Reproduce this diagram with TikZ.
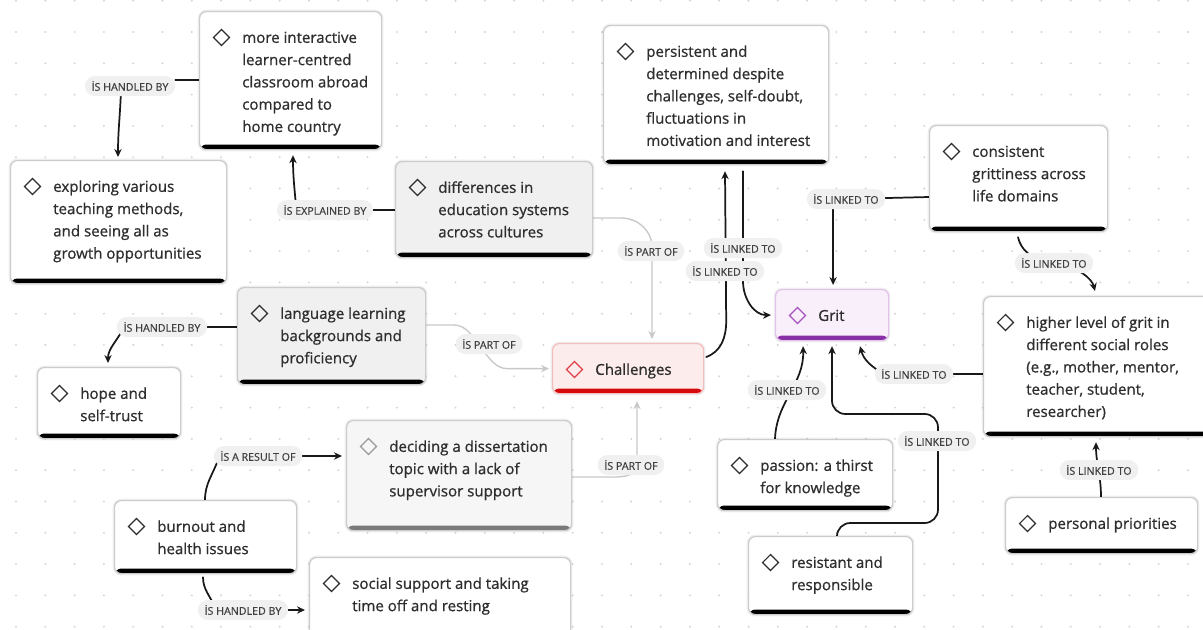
\documentclass[tikz,border=0pt]{standalone}
\usepackage{fontspec}
\setmainfont[FakeBold=0.8]{Open Sans}
\newfontfamily\lblfont[FakeBold=0.6]{Open Sans}
\usetikzlibrary{arrows.meta,calc}
\pgfdeclarelayer{bg}
\pgfdeclarelayer{edges}
\pgfsetlayers{bg,edges,main}

\definecolor{ink}{HTML}{2E2E2E}
\definecolor{boxline}{HTML}{CCCCCC}
\definecolor{grayfill}{HTML}{F0F0F0}
\definecolor{lightfill}{HTML}{F6F6F6}
\definecolor{lightbar}{HTML}{7A7A7A}
\definecolor{lightdia}{HTML}{9A9A9A}
\definecolor{chalfill}{HTML}{FDECEC}
\definecolor{challine}{HTML}{F5BDBD}
\definecolor{chalbar}{HTML}{D60A0A}
\definecolor{chaldia}{HTML}{E0404A}
\definecolor{gritfill}{HTML}{F8EFFA}
\definecolor{gritline}{HTML}{E2C3EC}
\definecolor{gritbar}{HTML}{8A30A6}
\definecolor{gritdia}{HTML}{A652C0}
\definecolor{lblfill}{HTML}{F0F0F0}
\definecolor{lbltext}{HTML}{404040}
\definecolor{gedgecol}{HTML}{C8C8C8}
\definecolor{dotcol}{HTML}{D4D4D4}

% one concept card: name, x, y, width, height, card style, diamond style, text
\newcommand\conceptbox[8]{%
  \node[box,#6,minimum width={#4*0.75pt},minimum height={#5*0.75pt},anchor=north west] (#1) at (#2,#3) {};
  \node[dia,#7] (#1-d) at ($(#1.north west)+(22.5,26.5)$) {};
  \node[txt,anchor=north west] (#1-t) at ($(#1.north west)+(43,16.0)$) {\strut #8};
}

\begin{document}
\begin{tikzpicture}[x=0.75pt,y=-0.75pt,
  basebar/.style={path picture={\fill[#1] ([yshift=3.8pt]path picture bounding box.south west) rectangle (path picture bounding box.south east);}},
  box/.style={draw=boxline, line width=0.9pt, fill=white, rounded corners=5pt, inner sep=0pt, basebar=black,
    preaction={draw=black, draw opacity=0.07, line width=2.8pt}},
  graycard/.style={fill=grayfill},
  lightcard/.style={fill=lightfill, basebar=lightbar},
  chalcard/.style={fill=chalfill, draw=challine, basebar=chalbar},
  gritcard/.style={fill=gritfill, draw=gritline, basebar=gritbar},
  dia/.style={draw=ink, line width=0.9pt, rectangle, rotate=45, minimum size=8.4pt, inner sep=0pt},
  txt/.style={font=\fontsize{11.3}{16.7}\selectfont, text=ink, align=left, inner sep=0pt},
  lbl/.style={fill=lblfill, text=lbltext, rounded corners=7.5pt, inner xsep=5pt, inner ysep=0pt, minimum height=15pt, font=\lblfont\fontsize{8}{9}\selectfont},
  edge/.style={draw=black!90, line width=1.3pt, line cap=round},
  gedge/.style={draw=gedgecol, line width=1pt, line cap=round},
  arr/.style={-{Stealth[length=6pt,width=5.5pt]}},
]
\useasboundingbox (0,0) rectangle (1203,629);

\begin{pgfonlayer}{bg}
  \fill[white] (0,0) rectangle (1203,629);
  \foreach \i in {0,...,40} \foreach \j in {0,...,20}
    \fill[dotcol] (16+29.3*\i, 0.7+31.3*\j) circle[radius=0.8pt];
\end{pgfonlayer}

% concept cards
\conceptbox{n1}{199}{11}{182}{138}{}{}{more interactive\\learner-centred\\classroom abroad\\compared to\\home country}
\conceptbox{n2}{10}{160}{216}{123}{}{}{exploring various\\teaching methods,\\and seeing all as\\growth opportunities}
\conceptbox{n3}{395}{161}{197}{96}{graycard}{}{differences in\\education systems\\across cultures}
\conceptbox{n4}{603}{25}{225}{139}{}{}{persistent and\\determined despite\\challenges, self-doubt,\\fluctuations in\\motivation and interest}
\conceptbox{n5}{929}{125}{178}{106}{}{}{consistent\\grittiness across\\life domains}
\conceptbox{n6}{775}{289}{113}{51}{gritcard}{draw=gritdia}{Grit}
\conceptbox{n7}{983}{296}{232}{140}{}{}{higher level of grit in\\different social roles\\(e.g., mother, mentor,\\teacher, student,\\researcher)}
\conceptbox{n8}{237}{287}{188}{97}{graycard}{}{language learning\\backgrounds and\\proficiency}
\conceptbox{n9}{37}{367}{143}{71}{}{}{hope and\\self-trust}
\conceptbox{n10}{552}{343}{151}{50}{chalcard}{draw=chaldia}{Challenges}
\conceptbox{n11}{346}{420}{225}{110}{lightcard}{draw=lightdia}{deciding a dissertation\\topic with a lack of\\supervisor support}
\conceptbox{n12}{114}{500}{182}{73}{}{}{burnout and\\health issues}
\conceptbox{n13}{309}{557}{261}{95}{}{}{social support and taking\\time off and resting}
\conceptbox{n14}{717}{439}{175}{71}{}{}{passion: a thirst\\for knowledge}
\conceptbox{n15}{748}{536}{164}{78}{}{}{resistant and\\responsible}
\conceptbox{n16}{1005}{497}{192}{56}{}{}{personal priorities}

% relation labels
\node[lbl] (L1)  at (130,86)  {İS HANDLED BY};
\node[lbl] (L2)  at (325,210) {İS EXPLAINED BY};
\node[lbl] (L3)  at (651,251) {İS PART OF};
\node[lbl] (L4)  at (743,248) {İS LINKED TO};
\node[lbl] (L5)  at (725,271) {İS LINKED TO};
\node[lbl] (L6)  at (846,199) {İS LINKED TO};
\node[lbl] (L7)  at (1054,263) {İS LINKED TO};
\node[lbl] (L8)  at (914,374) {İS LINKED TO};
\node[lbl] (L9)  at (489,344) {İS PART OF};
\node[lbl] (L10) at (631,465) {İS PART OF};
\node[lbl] (L11) at (787,390) {İS LINKED TO};
\node[lbl] (L12) at (937,441) {İS LINKED TO};
\node[lbl] (L13) at (1099,470) {İS LINKED TO};
\node[lbl] (L14) at (162,327) {İS HANDLED BY};
\node[lbl] (L15) at (258,456) {İS A RESULT OF};
\node[lbl] (L16) at (243,610) {İS HANDLED BY};

\begin{pgfonlayer}{edges}
  % more interactive -> exploring
  \draw[edge] ($(n1.north west)+(0,69)$) -- ($(L1.east)+(0,-6)$);
  \draw[edge,arr] ($(L1.center)+(-9,4)$) to[out=-92,in=90] ($(n2.north west)+(108,-3)$);
  % differences -> more interactive
  \draw[edge] ($(n3.north west)+(0,49)$) -- (L2.center);
  \draw[edge,arr] ($(L2.center)+(-29,-4)$) to[out=95,in=-90] ($(n1.south west)+(94,5)$);
  % differences -> Challenges
  \draw[gedge,arr] ($(n3.north east)+(0,57)$) -- ++(28,0) to[out=0,in=90] ($(L3.center)+(1,-4)$)
    -- ($(L3.center |- n10.north)+(1,-4)$);
  % Challenges -> persistent
  \draw[edge,arr] ($(n10.north east)+(2,14)$) to[out=20,in=-90] ($(n10.north east)+(22,-22)$)
    -- ($(n4.south west)+(122,6)$);
  % persistent -> Grit
  \draw[edge,arr] ($(n4.south west)+(140,6)$) -- ($(n4.south west)+(140,116)$)
    to[out=-90,in=180] ($(n6.west)+(-4,0)$);
  % consistent -> Grit
  \draw[edge] ($(n5.north west)+(0,72)$) -- (L6.center);
  \draw[edge,arr] ($(n6.north)+(1,-85)$) -- ($(n6.north)+(1,-4)$);
  % consistent -> higher level
  \draw[edge,arr] ($(n5.south west)+(89,5)$) .. controls +(3,12) and +(-25,-4) .. (L7.center)
    .. controls +(25,4) and +(-3,-12) .. ($(n7.north west)+(112,-5)$);
  % higher level -> Grit
  \draw[edge] ($(n7.north west)+(0,78)$) -- (L8.center);
  \draw[edge,arr] ($(L8.center)+(-30,0)$) to[out=150,in=-75] ($(n6.south west)+(85,5)$);
  % passion -> Grit
  \draw[edge,arr] ($(n14.north west)+(58,0)$) to[out=88,in=-88] ($(n6.south west)+(28,5)$);
  % resistant -> Grit
  \draw[edge,arr,rounded corners=10pt] ($(n15.north west)+(89,8)$) |- ($(L12.center)+(1,82)$)
    -- ($(L12.center)+(1,-27)$) -| ($(n6.south west)+(57,5)$);
  % personal priorities -> higher level
  \draw[edge,arr] ($(n16.north west)+(96,0)$) to[out=90,in=-90] ($(n7.south west)+(113,5)$);
  % language learning -> hope
  \draw[edge] ($(n8.north west)+(0,40)$) -- (L14.center);
  \draw[edge,arr] ($(L14.center)+(-40,4)$) to[out=-120,in=90] ($(n9.north west)+(71,-4)$);
  % language learning -> Challenges
  \draw[gedge,arr] ($(n8.north east)+(0,38)$) -- ++(28,0) .. controls +(22,0) and +(-22,0) ..
    ($(n10.west)+(-45,0)$) -- ($(n10.west)+(-3,0)$);
  % deciding -> Challenges
  \draw[gedge,arr] ($(n11.north east)+(0,57)$) -- ($(L10.center)+(-25,12)$) to[out=0,in=-90]
    ($(L10.center)+(6,0)$) -- ($(n10.south west)+(85,7)$);
  % burnout -> deciding
  \draw[edge] ($(n12.north west)+(91,0)$) to[out=90,in=-110] ($(L15.center)+(-40,4)$);
  \draw[edge,arr] (L15.center) -- ($(n11.west |- L15.center)+(-4,0)$);
  % burnout -> social support
  \draw[edge] ($(n12.south west)+(89,3)$) to[out=-90,in=110] ($(L16.center)+(-28,-2)$);
  \draw[edge,arr] (L16.center) -- ($(n13.west |- L16.center)+(-4,0)$);
\end{pgfonlayer}
\end{tikzpicture}
\end{document}
